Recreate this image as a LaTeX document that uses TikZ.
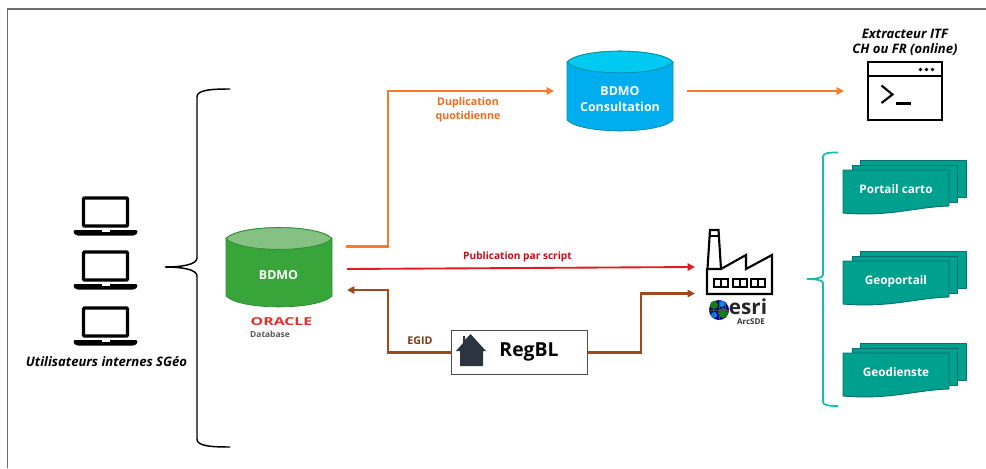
\documentclass[tikz,border=0pt]{standalone}
\usepackage{fontspec}
\usepackage{graphicx}
\setmainfont{Open Sans}
\usetikzlibrary{arrows.meta}
\definecolor{orangeflow}{HTML}{F97A2A}
\definecolor{orangetxt}{HTML}{EE6C1E}
\definecolor{redflow}{HTML}{E01B22}
\definecolor{redtxt}{HTML}{C70E14}
\definecolor{oraclered}{HTML}{E5302A}
\definecolor{brownflow}{HTML}{9E4A1C}
\definecolor{browntxt}{HTML}{7C3A16}
\definecolor{tealdoc}{HTML}{00A08F}
\definecolor{tealedge}{HTML}{0B6E72}
\definecolor{tealbrace}{HTML}{17BDA8}
\definecolor{greenbody}{HTML}{38A53B}
\definecolor{greentop}{HTML}{84C182}
\definecolor{greenedge}{HTML}{2F8F34}
\definecolor{bluebody}{HTML}{00AEEF}
\definecolor{bluetop}{HTML}{00C9F2}
\definecolor{blueedge}{HTML}{0A8FA0}
\definecolor{housecol}{HTML}{2B3440}
\definecolor{framecol}{HTML}{6E6E6E}
\tikzset{
  flow/.style={line width=1.8pt,-{Triangle[length=5.5pt,width=5.5pt]}},
  lbl/.style={inner sep=0pt,font=\bfseries\fontsize{8}{10.5}\selectfont,align=center},
  whitetxt/.style={inner sep=0pt,text=white,font=\bfseries\fontsize{9.3}{12}\selectfont,align=center},
  itl/.style={inner sep=0pt,font=\bfseries\itshape\fontsize{9.8}{11.3}\selectfont,align=center},
  icon/.style={line width=1.6pt,draw=black,line join=miter},
  docsheet/.style={fill=tealdoc,draw=tealedge,line width=0.7pt,line join=round},
  pics/laptop/.style={code={
    \draw[line width=2.5pt,rounded corners=0.8pt] (-22,-34) rectangle (22,-6);
    \fill[black,rounded corners=1pt] (-32,-2) -- (32,-2) -- (32,1) -- (29,3.5) -- (-29,3.5) -- (-32,1) -- cycle;
    \fill[white] (-4,-2) rectangle (4,-0.5);
  }},
  pics/docstack/.style={code={
    \path[docsheet] (17,0) -- (123,0) -- (123,37) -- (17,37) -- cycle;
    \path[docsheet] (9,5) -- (114,5) -- (114,42) -- (9,42) -- cycle;
    \path[docsheet] (0,10) -- (106,10) -- (106,46) .. controls (72,47) and (47,57) .. (0,53) -- cycle;
  }},
}
\newcommand{\dbcyl}[7]{% x0,x1,topcentre,botcentre,body,top,edge
  \path[fill=#5,draw=#7,line width=0.6pt] (#1,#3) -- (#1,#4)
    .. controls (#1+14,#4+14.5) and (#2-14,#4+14.5) .. (#2,#4) -- (#2,#3)
    .. controls (#2-14,#3-14.5) and (#1+14,#3-14.5) .. (#1,#3) -- cycle;
  \path[fill=#6,draw=#7,line width=0.6pt] (#1,#3)
    .. controls (#1+14,#3-14.5) and (#2-14,#3-14.5) .. (#2,#3)
    .. controls (#2-14,#3+14.5) and (#1+14,#3+14.5) .. (#1,#3) -- cycle;
}
\begin{document}
\begin{tikzpicture}[x=0.75pt,y=-0.75pt]
\useasboundingbox (0,0) rectangle (986,468);
\fill[white] (0,0) rectangle (986,468);
% frame
\draw[framecol,line width=1pt] (7.5,468) -- (7.5,9) -- (986,9);
% laptops
\pic at (105.5,232) {laptop};
\pic at (105.5,286) {laptop};
\pic at (105.5,342) {laptop};
\node[itl] (users) at (106.5,362) {Utilisateurs internes SGéo};
% black brace
\draw[black,line width=1.1pt] (230,89) .. controls (210,89) and (197,90) .. (197,97)
  -- (197,258) .. controls (197,265) and (180,267) .. (165,267)
  .. controls (180,267) and (197,269) .. (197,276)
  -- (197,439) .. controls (197,446) and (210,447) .. (230,447);
% BDMO
\dbcyl{226}{332}{238.5}{296}{greenbody}{greentop}{greenedge}
\node[whitetxt] (bdmo) at (278.5,275) {BDMO};
\node[inner sep=0pt,text=oraclered,font=\bfseries\fontsize{8.2}{9}\selectfont] (oracle) at (281.5,322) {\scalebox{1.45}[1]{ORACLE}};
\node[inner sep=0pt,text=black!65,font=\bfseries\fontsize{6.3}{8}\selectfont] (database) at (270,334.5) {Database};
% Consultation
\dbcyl{567}{673}{62}{120}{bluebody}{bluetop}{blueedge}
\node[whitetxt] (consult) at (620,99) {BDMO\\Consultation};
% Terminal
\node[itl] (extract) at (905,42.5) {Extracteur ITF\\CH ou FR (online)};
\node[icon,draw,minimum width=55pt,minimum height=43.5pt,inner sep=0pt] (term) at (905,91) {};
\draw[icon] (868,76) -- (942,76);
\fill (920.5,69.5) circle (1.9) (926.5,69.5) circle (1.9) (932.5,69.5) circle (1.9);
\draw[icon] (881.5,85.5) -- (892.5,94.5) -- (881.5,103);
\draw[icon] (896,103.5) -- (910.5,103.5);
% Factory
\draw[icon,line width=1.6pt] (707,294) -- (772,294) -- (772,255) -- (746,269) -- (746,255) -- (721,269) -- (707,269) -- cycle;
\draw[icon,line width=1.6pt] (707.5,269) -- (710,230) -- (718.5,230) -- (721,269);
\draw[icon,line width=1.1pt] (710,236) -- (718.5,236);
\foreach \wx in {714,733,751}{
  \draw[icon,line width=1.2pt] (\wx,279) rectangle ++(14,8);
  \draw[icon,line width=1.2pt] (\wx+7,279) -- ++(0,8);
}
% esri
\fill[blue!60!black] (719,310) circle (10);
\fill[green!55!black] (714,305) circle (4) (723,313) circle (5);
\fill[blue!45!cyan] (722,304) circle (3) (714,315) circle (3);
\draw[black!70,line width=0.3pt] (709,310) -- (729,310) (719,300) -- (719,320) (713,302) -- (713,318) (725,302) -- (725,318);
\node[inner sep=0pt,text=black!85,font=\bfseries\fontsize{15.5}{16}\selectfont] (esri) at (748,307) {esri};
\node[inner sep=0pt,text=black!80,font=\bfseries\fontsize{6}{7}\selectfont] (arcsde) at (751,321.5) {ArcSDE};
% RegBL
\node[draw=black!70,fill=white,line width=0.9pt,minimum width=102.5pt,minimum height=33.5pt,inner sep=0pt] (regbl) at (519.5,352.5) {};
\fill[housecol] (470.5,334) -- (486,351) -- (483,351) -- (483,366) -- (460,366) -- (460,351) -- (456,351) -- (463,343) -- (463,336) -- (465,336) -- (465,340) -- cycle;
\node[inner sep=0pt,text=black,font=\bfseries\fontsize{14.5}{18}\selectfont] (regbltxt) at (529,352) {RegBL};
% connector ends
\coordinate (bdmoA) at (346,246.5);
\coordinate (bdmoB) at (347,269);
\coordinate (bdmoC) at (347,290);
\coordinate (consultIn) at (554,91);
\coordinate (consultOut) at (687,91);
\coordinate (termIn) at (844,91);
\coordinate (factA) at (695,267);
\coordinate (factB) at (695,293.5);
% connectors
\draw[flow,orangeflow] (bdmoA) -- (388,246.5) -- (388,91) -- (consultIn);
\draw[flow,orangeflow,line width=1.4pt] (consultOut) -- (termIn);
\draw[flow,redflow,line width=1.4pt] (bdmoB) -- (factA);
\draw[flow,brownflow] (regbl.west) -- (388,352.5) -- (388,290) -- (bdmoC);
\draw[flow,brownflow] (regbl.east) -- (641,352.5) -- (641,293.5) -- (factB);
% labels
\node[lbl,text=orangetxt] (dup) at (468,110) {Duplication\\quotidienne};
\node[lbl,text=redtxt,font=\bfseries\fontsize{7.6}{10}\selectfont] (pub) at (517.5,257) {Publication par script};
\node[lbl,text=browntxt] (egid) at (420,341) {EGID};
% teal brace
\draw[tealbrace,line width=1.3pt] (838,152.5) .. controls (828,152.5) and (823,153) .. (823,157)
  -- (823,275) .. controls (823,278) and (815,279) .. (807,279)
  .. controls (815,279) and (823,280) .. (823,283)
  -- (823,402) .. controls (823,405) and (828,406) .. (838,406);
% doc stacks
\pic at (843,160) {docstack};
\pic at (843,251) {docstack};
\pic at (843,343) {docstack};
\node[whitetxt,font=\bfseries\fontsize{8.8}{11}\selectfont] (portail) at (896,189) {Portail carto};
\node[whitetxt,font=\bfseries\fontsize{8.8}{11}\selectfont] (geop) at (896,281) {Geoportail};
\node[whitetxt,font=\bfseries\fontsize{8.8}{11}\selectfont] (geod) at (896,372) {Geodienste};
\end{tikzpicture}
\end{document}
